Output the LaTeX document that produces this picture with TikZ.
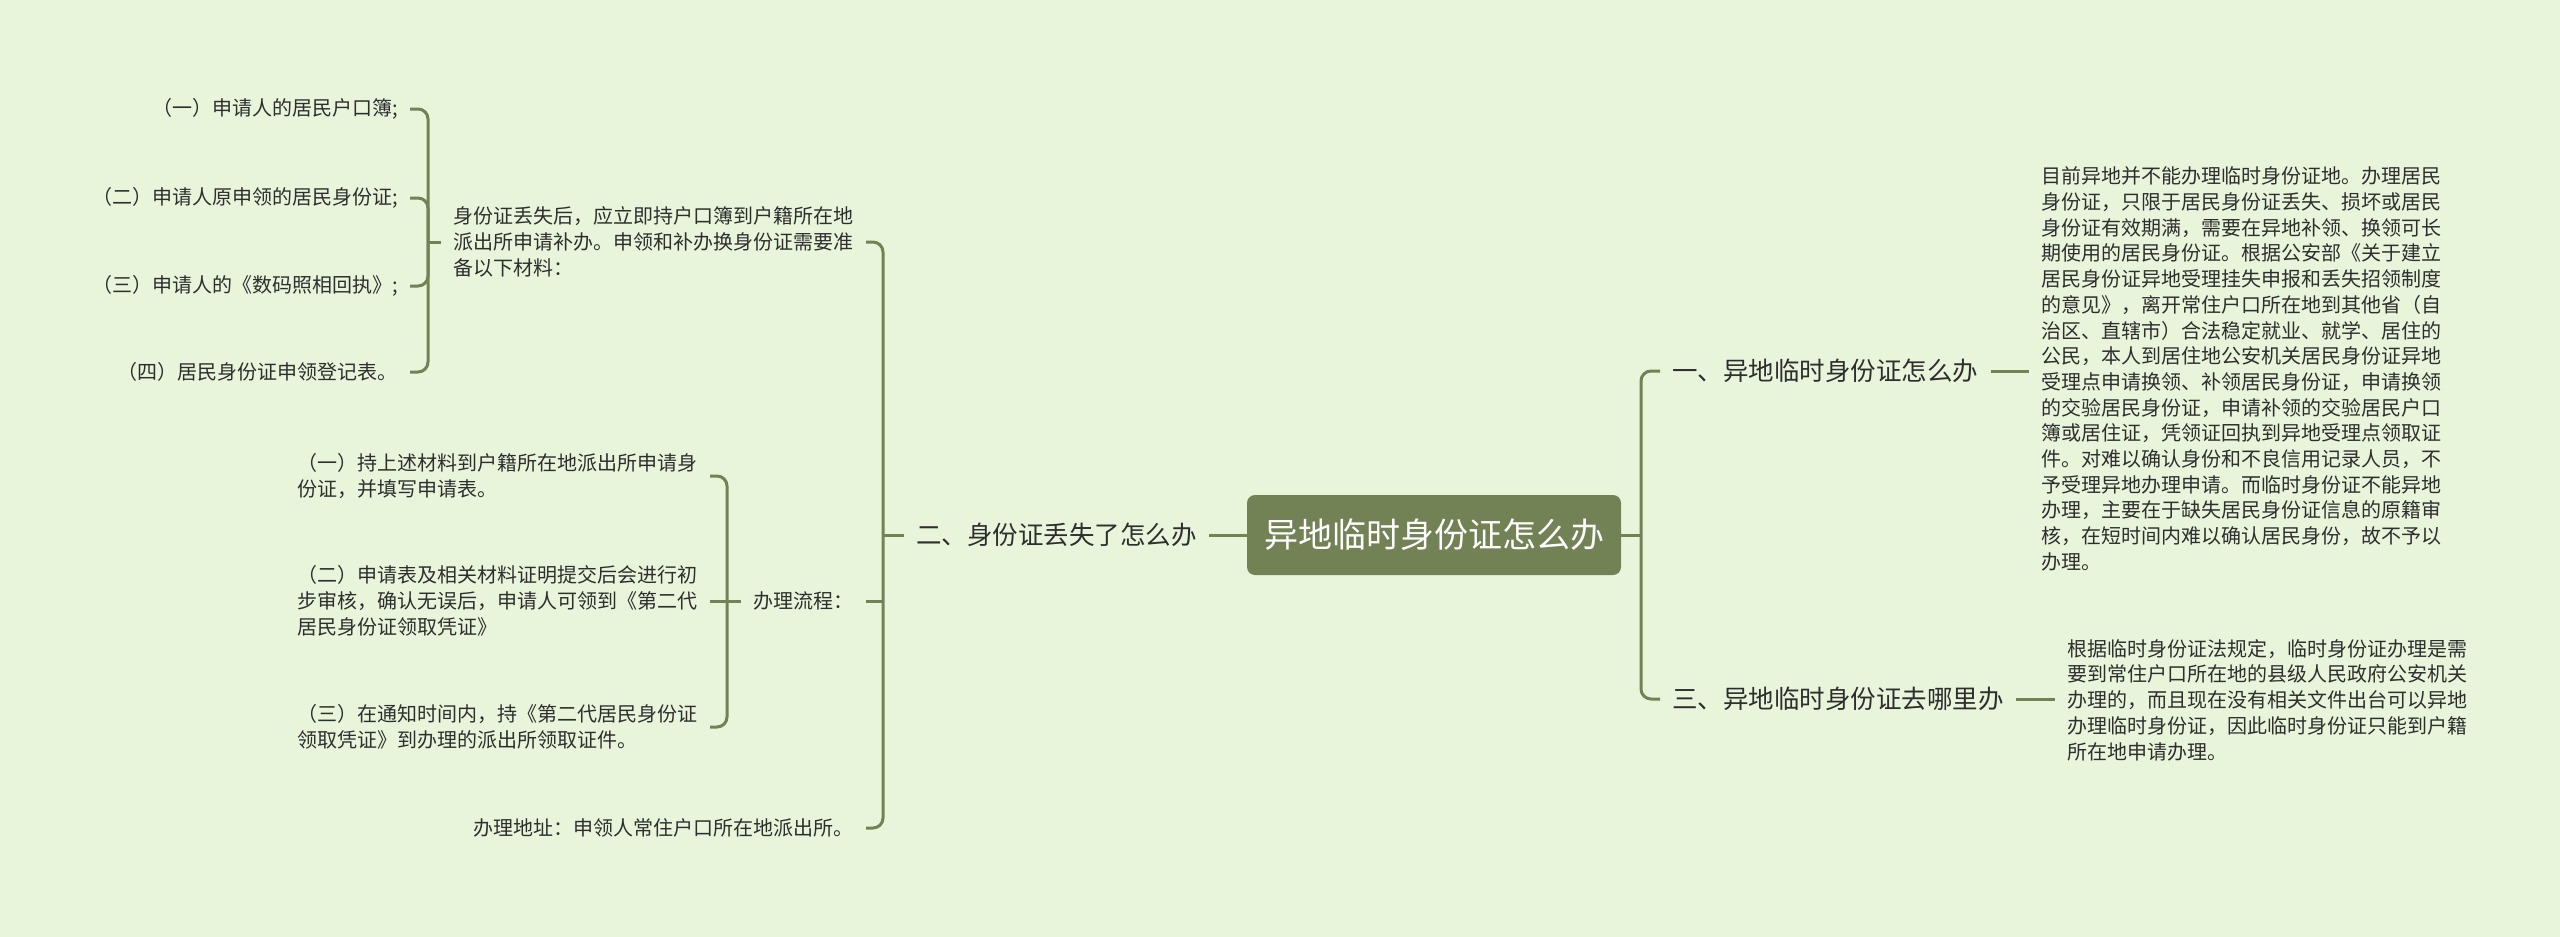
\documentclass[tikz,border=0pt]{standalone}
\usepackage{fontspec}
\setmainfont{Noto Sans CJK SC}
\usetikzlibrary{calc}
\definecolor{bgc}{HTML}{E8F5DB}
\definecolor{olive}{HTML}{738255}
\definecolor{txt}{HTML}{2E2E2E}
\begin{document}
\begin{tikzpicture}[x=0.5pt,y=-0.5pt,
  conn/.style={draw=olive,line width=1.5pt},
  rc/.style={rounded corners=5pt},
  rootbox/.style={fill=olive,rounded corners=4pt,minimum width=187pt,minimum height=40pt,
    text=white,font=\fontsize{17}{20}\selectfont,inner sep=0pt},
  mainbox/.style={inner xsep=6pt,inner ysep=2pt,text=txt,font=\fontsize{12.75}{15}\selectfont},
  leaf/.style={inner xsep=6pt,inner ysep=1pt,text=txt,font=\fontsize{10}{13}\selectfont,align=left},
  para/.style={inner xsep=6pt,inner ysep=1pt,text=txt,font=\fontsize{10}{12.85}\selectfont,align=left}]
\fill[bgc] (0,0) rectangle (2560,937);
\useasboundingbox (0,0) rectangle (2560,937);

% root
\node[rootbox] (root) at (1434,535) {异地临时身份证怎么办};

% right side
\node[mainbox,anchor=west] (n1) at (1660,371) {一、异地临时身份证怎么办};
\node[mainbox,anchor=west] (n3) at (1660,699) {三、异地临时身份证去哪里办};
\node[para,anchor=west] (p1) at (2029,369) {目前异地并不能办理临时身份证地。办理居民\\身份证，只限于居民身份证丢失、损坏或居民\\身份证有效期满，需要在异地补领、换领可长\\期使用的居民身份证。根据公安部《关于建立\\居民身份证异地受理挂失申报和丢失招领制度\\的意见》，离开常住户口所在地到其他省（自\\治区、直辖市）合法稳定就业、就学、居住的\\公民，本人到居住地公安机关居民身份证异地\\受理点申请换领、补领居民身份证，申请换领\\的交验居民身份证，申请补领的交验居民户口\\簿或居住证，凭领证回执到异地受理点领取证\\件。对难以确认身份和不良信用记录人员，不\\予受理异地办理申请。而临时身份证不能异地\\办理，主要在于缺失居民身份证信息的原籍审\\核，在短时间内难以确认居民身份，故不予以\\办理。};
\node[para,anchor=west] (p3) at (2055,700) {根据临时身份证法规定，临时身份证办理是需\\要到常住户口所在地的县级人民政府公安机关\\办理的，而且现在没有相关文件出台可以异地\\办理临时身份证，因此临时身份证只能到户籍\\所在地申请办理。};

% left side
\node[mainbox,anchor=east] (n2) at (1209,535) {二、身份证丢失了怎么办};
\node[leaf,anchor=east] (A) at (866,242) {身份证丢失后，应立即持户口簿到户籍所在地\\派出所申请补办。申领和补办换身份证需要准\\备以下材料：};
\node[leaf,anchor=east] (B) at (866,601) {办理流程：};
\node[leaf,anchor=east] (C) at (866,828) {办理地址：申领人常住户口所在地派出所。};

\node[leaf,anchor=east] (a1) at (410,109) {（一）申请人的居民户口簿;};
\node[leaf,anchor=east] (a2) at (410,198) {（二）申请人原申领的居民身份证;};
\node[leaf,anchor=east] (a3) at (410,286) {（三）申请人的《数码照相回执》;};
\node[leaf,anchor=east] (a4) at (410,372) {（四）居民身份证申领登记表。};

\node[leaf,anchor=east] (b1) at (710,476) {（一）持上述材料到户籍所在地派出所申请身\\份证，并填写申请表。};
\node[leaf,anchor=east] (b2) at (710,601) {（二）申请表及相关材料证明提交后会进行初\\步审核，确认无误后，申请人可领到《第二代\\居民身份证领取凭证》};
\node[leaf,anchor=east] (b3) at (710,727) {（三）在通知时间内，持《第二代居民身份证\\领取凭证》到办理的派出所领取证件。};

% junctions
\coordinate (jR) at (1641,535);
\coordinate (jL) at (883,535);
\coordinate (jA) at (428,242);
\coordinate (jB) at (727,601);

% connectors right
\draw[conn] (root.east) -- (jR);
\draw[conn,rc] (n1.west) -| (jR);
\draw[conn,rc] (n3.west) -| (jR);
\draw[conn] (n1.east) -- (n1.east -| p1.west);
\draw[conn] (n3.east) -- (n3.east -| p3.west);

% connectors left
\draw[conn] (root.west) -- (n2.east);
\draw[conn] (n2.west) -- (jL);
\draw[conn,rc] (A.east) -| (jL);
\draw[conn] (B.east) -- (B.east -| jL);
\draw[conn,rc] (C.east) -| (jL);

\draw[conn] (A.west) -- (jA);
\draw[conn,rc] (a1.east) -| (jA);
\draw[conn,rc] (a2.east) -| (jA);
\draw[conn,rc] (a3.east) -| (jA);
\draw[conn,rc] (a4.east) -| (jA);

\draw[conn] (B.west) -- (jB);
\draw[conn,rc] (b1.east) -| (jB);
\draw[conn] (b2.east) -- (jB);
\draw[conn,rc] (b3.east) -| (jB);
\end{tikzpicture}
\end{document}
